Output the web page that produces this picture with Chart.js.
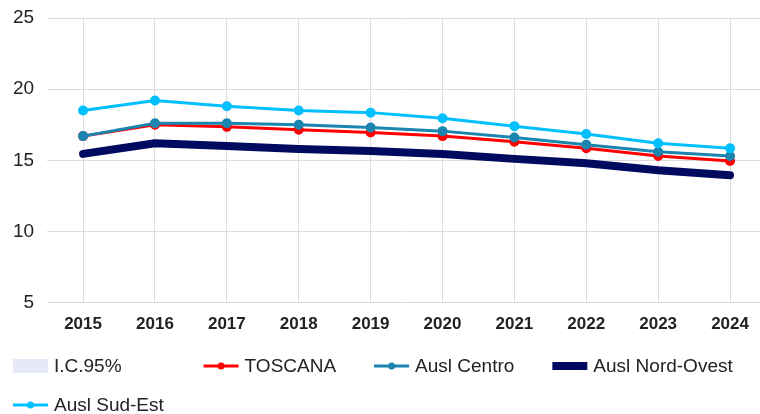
<!DOCTYPE html>
<html>
<head>
<meta charset="utf-8">
<script src="https://cdn.jsdelivr.net/npm/chart.js@4.4.1/dist/chart.umd.min.js"></script>
<style>
html, body { margin: 0; padding: 0; background: #fff; overflow: hidden; }
#wrap { position: relative; width: 766px; height: 414px; }
</style>
</head>
<body>
<div id="wrap"><canvas id="trendChart"></canvas></div>
<script>
// Tasso standardizzato per anno: Toscana e le tre Ausl
const years = ['2015', '2016', '2017', '2018', '2019', '2020', '2021', '2022', '2023', '2024'];
const toscana = [16.7, 17.5, 17.35, 17.15, 16.95, 16.7, 16.3, 15.85, 15.3, 14.95];
const auslCentro = [16.7, 17.6, 17.6, 17.5, 17.3, 17.05, 16.6, 16.1, 15.6, 15.3];
const auslNordOvest = [15.45, 16.2, 16.0, 15.8, 15.65, 15.45, 15.1, 14.8, 14.3, 13.95];
const auslSudEst = [18.5, 19.2, 18.8, 18.5, 18.35, 17.95, 17.4, 16.85, 16.2, 15.85];
const icBand = []; // intervallo di confidenza: nessun valore disegnato
const yMin = 5, yMax = 25, yStep = 5;

const FONT = '"Liberation Sans", Arial, sans-serif';

// legenda disegnata sul canvas: simbolo linea+punto, righe allineate a sinistra
const lineLegend = {
    id: 'lineLegend',
    afterDraw(chart, args, opts) {
        const ctx = chart.ctx;
        ctx.save();
        ctx.font = opts.fontSize + 'px ' + FONT;
        ctx.textBaseline = 'middle';
        ctx.textAlign = 'left';
        let x = opts.left, y = opts.top;
        chart.data.datasets.forEach(ds => {
            const tw = ctx.measureText(ds.label).width;
            const w = opts.symbolWidth + opts.textGap + tw;
            if (x > opts.left && x + w > opts.maxRight) { x = opts.left; y += opts.rowHeight; }
            const sw = opts.symbolWidth;
            if (ds.legendBox) {
                ctx.fillStyle = ds.backgroundColor;
                ctx.fillRect(x, y - 7, sw, 14);
            } else {
                ctx.strokeStyle = ds.borderColor;
                ctx.lineWidth = ds.legendLine || 3;
                ctx.beginPath();
                ctx.moveTo(x, y);
                ctx.lineTo(x + sw, y);
                ctx.stroke();
                ctx.fillStyle = ds.borderColor;
                ctx.beginPath();
                ctx.arc(x + sw / 2, y, 3.5, 0, Math.PI * 2);
                ctx.fill();
            }
            ctx.fillStyle = '#222';
            ctx.fillText(ds.label, x + sw + opts.textGap, y + 1);
            x += w + (ds.legendGap || opts.itemGap);
        });
        ctx.restore();
    }
};

const ctx = document.getElementById('trendChart').getContext('2d');
window.trendChart = new Chart(ctx, {
    type: 'line',
    data: {
        labels: years,
        datasets: [
            { label: 'I.C.95%', data: icBand, backgroundColor: '#e6e9fa', borderColor: '#e6e9fa',
              legendBox: true, legendGap: 82, order: 9 },
            { label: 'TOSCANA', data: toscana, borderColor: '#ff0000', backgroundColor: '#ff0000',
              borderWidth: 3, pointRadius: 3.5, order: 3 },
            { label: 'Ausl Centro', data: auslCentro, borderColor: '#1a86b0', backgroundColor: '#1a86b0',
              borderWidth: 3, pointRadius: 3.5, order: 2 },
            { label: 'Ausl Nord-Ovest', data: auslNordOvest, borderColor: '#000a5e', backgroundColor: '#000a5e',
              borderWidth: 8, pointRadius: 0, borderCapStyle: 'round', borderJoinStyle: 'round',
              legendLine: 8, order: 4 },
            { label: 'Ausl Sud-Est', data: auslSudEst, borderColor: '#00bfff', backgroundColor: '#00bfff',
              borderWidth: 3, pointRadius: 3.5, order: 1 }
        ]
    },
    options: {
        responsive: true,
        maintainAspectRatio: false,
        animation: false,
        layout: { autoPadding: false, padding: { left: 0, top: 18, right: 0, bottom: 67 } },
        elements: { line: { tension: 0 }, point: { borderWidth: 0, hoverRadius: 4 } },
        plugins: {
            legend: { display: false },
            tooltip: { enabled: false },
            lineLegend: { left: 13, top: 366, rowHeight: 39, symbolWidth: 35, textGap: 6,
                          itemGap: 38, maxRight: 758, fontSize: 19 }
        },
        scales: {
            x: {
                offset: true,
                grid: { offset: false, color: '#dcdcdc', drawTicks: false },
                border: { display: false },
                ticks: { color: '#222', padding: 12, font: { family: FONT, size: 17, weight: 'bold' } }
            },
            y: {
                min: yMin, max: yMax,
                grid: { color: '#dcdcdc', drawTicks: false },
                border: { display: false },
                ticks: { stepSize: yStep, color: '#222', padding: 13, font: { family: FONT, size: 19 } },
                // la spaziatura delle etichette non deve spostare il bordo superiore
                afterFit(scale) { scale.paddingTop = 0; scale.paddingBottom = 0; }
            }
        }
    },
    plugins: [lineLegend]
});
</script>
</body>
</html>
